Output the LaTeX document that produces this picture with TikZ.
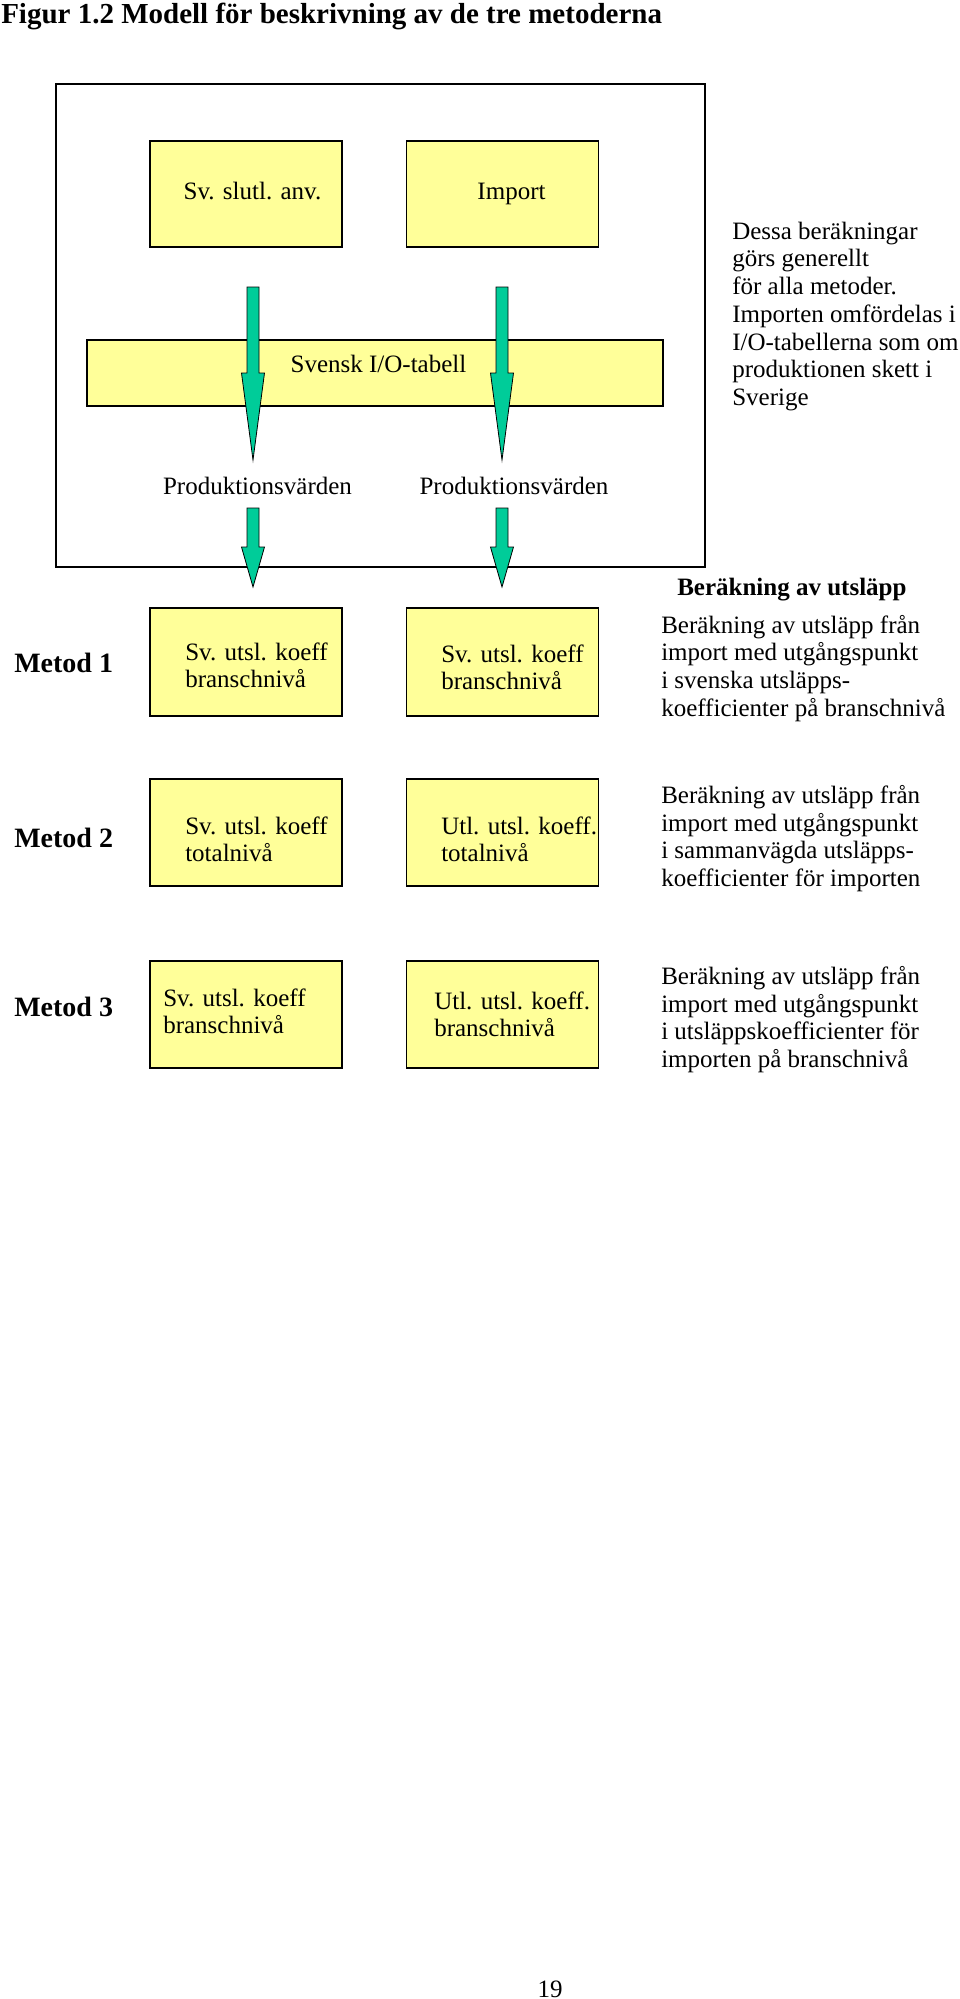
\documentclass[tikz,border=0pt]{standalone}
\usepackage{fontspec}
\setmainfont{Liberation Serif}
\usepackage{tikz}

\definecolor{boxyellow}{RGB}{255,255,153}
\definecolor{arrgreen}{RGB}{0,204,153}

\newcommand{\bodyfont}{\fontsize{18.75}{20.8}\selectfont}
\newcommand{\titlefont}{\fontsize{21.75}{24}\selectfont\bfseries}
\newcommand{\metodfont}{\fontsize{21}{24}\selectfont\bfseries}

% block arrow pointing down: x, top, start of head, tip
\newcommand{\blockarrow}[4]{%
	\draw[greenarr] ({#1-6},#2) -- ({#1+6},#2) -- ({#1+6},#3) -- ({#1+11.5},#3)
		-- (#1,#4) -- ({#1-11.5},#3) -- ({#1-6},#3) -- cycle;}

\tikzset{
	box/.style={draw, fill=boxyellow, line width=1.1pt, inner sep=0pt,
		minimum width=192*0.75pt, minimum height=107*0.75pt},
	txt/.style={font=\bodyfont, inner sep=0pt, align=left},
	metod/.style={font=\metodfont, inner sep=0pt, anchor=base west},
	greenarr/.style={fill=arrgreen, draw=black, line width=0.6pt}
}

\begin{document}
\begin{tikzpicture}[x=0.75pt,y=-0.75pt]
	\useasboundingbox (0,0) rectangle (960,1999);
	\node[anchor=base west, inner sep=0pt, font=\titlefont] (title) at (1,23)
		{Figur 1.2 Modell för beskrivning av de tre metoderna};

%common part
	\node[draw, line width=1.1pt, minimum width=649*0.75pt, minimum height=483*0.75pt] (frame) at (380.5,325.5) {};
	\node[box, minimum height=106*0.75pt] (slutl) at (246,194) {};
	\node[box, minimum height=106*0.75pt] (import) at (502.5,194) {};
	\node[box, minimum width=576*0.75pt, minimum height=66*0.75pt] (io) at (375,373) {};
	\node[txt, anchor=base] (tslutl) at (252.5,199) {Sv. slutl. anv.};
	\node[txt, anchor=base] (timport) at (511.5,199) {Import};
	\node[txt, anchor=base] (tio) at (378.5,372) {Svensk I/O-tabell};
	\foreach \x in {253,502}
	{\blockarrow{\x}{287}{373}{460}
	 \blockarrow{\x}{508}{547}{587}}
	\node[txt, anchor=base] (prod1) at (257.5,494) {Produktionsvärden};
	\node[txt, anchor=base] (prod2) at (514,494) {Produktionsvärden};
	\node[txt, anchor=west] (note) at (732,316.3) {Dessa beräkningar\\görs generellt\\för alla metoder.\\Importen omfördelas i\\I/O-tabellerna som om\\produktionen skett i\\Sverige};
	\node[txt, font=\bodyfont\bfseries, anchor=base west] (berak) at (677,595) {Beräkning av utsläpp};

%metod 1
	\node[metod] (metod1) at (14,672) {Metod 1};
	\node[box, minimum height=108*0.75pt] (m1sv) at (246,662) {};
	\node[box, minimum height=108*0.75pt] (m1utl) at (502.5,662) {};
	\node[txt, anchor=west] (tm1sv) at (185,665.3) {Sv. utsl. koeff\\branschnivå};
	\node[txt, anchor=west] (tm1utl) at (441,667.3) {Sv. utsl. koeff\\branschnivå};
	\node[txt, anchor=west] (desc1) at (661,668.3) {Beräkning av utsläpp från\\import med utgångspunkt\\i svenska utsläpps-\\koefficienter på branschnivå};

%metod 2
	\node[metod] (metod2) at (14,847) {Metod 2};
	\node[box] (m2sv) at (246,832.5) {};
	\node[box] (m2utl) at (502.5,832.5) {};
	\node[txt, anchor=west] (tm2sv) at (185,839.3) {Sv. utsl. koeff\\totalnivå};
	\node[txt, anchor=west] (tm2utl) at (441,839.3) {Utl. utsl. koeff.\\totalnivå};
	\node[txt, anchor=west] (desc2) at (661,838.7) {Beräkning av utsläpp från\\import med utgångspunkt\\i sammanvägda utsläpps-\\koefficienter för importen};

%metod 3
	\node[metod] (metod3) at (14,1016) {Metod 3};
	\node[box] (m3sv) at (246,1014.5) {};
	\node[box] (m3utl) at (502.5,1014.5) {};
	\node[txt, anchor=west] (tm3sv) at (163,1011.3) {Sv. utsl. koeff\\branschnivå};
	\node[txt, anchor=west] (tm3utl) at (434,1014.3) {Utl. utsl. koeff.\\branschnivå};
	\node[txt, anchor=west] (desc3) at (661,1019.7) {Beräkning av utsläpp från\\import med utgångspunkt\\i utsläppskoefficienter för\\importen på branschnivå};

	\node[txt, anchor=base] (pagenr) at (550,1997) {19};
\end{tikzpicture}
\end{document}
